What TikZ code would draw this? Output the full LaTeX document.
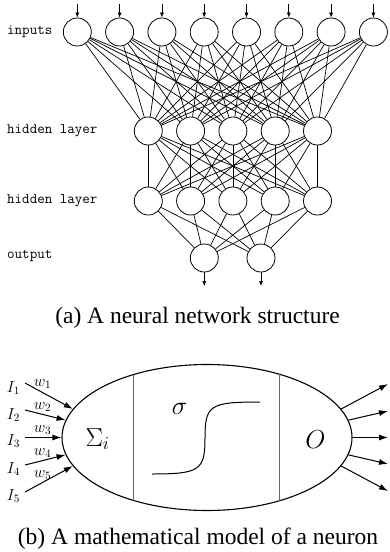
\RequirePackage{fix-cm}
\documentclass[tikz,border=0pt]{standalone}
\usepackage{fontspec}
\newfontfamily\capfont{Liberation Serif}
\usetikzlibrary{shapes.geometric,arrows.meta}
\begin{document}
\begin{tikzpicture}[x=1pt,y=-1pt,
  neu/.style={draw, circle, minimum size=28pt, inner sep=0pt, line width=0.8pt},
  conn/.style={line width=0.7pt},
  smallarr/.style={line width=0.7pt, -{Latex[length=5pt,width=4pt]}},
  lbl/.style={anchor=west, inner sep=0pt, font=\fontsize{14.6}{16}\selectfont\ttfamily},
  captext/.style={anchor=base, inner sep=0pt, font=\fontsize{23.5}{26}\selectfont\capfont},
  bigarr/.style={line width=1pt, -{Latex[length=9pt,width=6pt]}},
  smallmath/.style={anchor=base, inner sep=0pt, font=\fontsize{16}{18}\selectfont},
  bigmath/.style={anchor=base, inner sep=0pt, font=\fontsize{26}{30}\selectfont},
]
\useasboundingbox (0,0) rectangle (389,552);

% ---------------- (a) network ----------------
\foreach \i in {1,...,8} {
  \node[neu] (in\i) at ({77.3+42.3*(\i-1)},32) {};
  \coordinate (ia\i) at ({77.3+42.3*(\i-1)},4);
  \draw[smallarr] (ia\i) -- (in\i);
}
\foreach \j in {1,...,5} {
  \node[neu] (ha\j) at ({148.3+42.3*(\j-1)},131) {};
  \node[neu] (hb\j) at ({148.3+42.3*(\j-1)},201) {};
}
\node[neu] (out1) at (204.3,258) {};
\node[neu] (out2) at (261,258) {};
\coordinate (oa1) at (204.3,286);
\coordinate (oa2) at (261,286);
\draw[smallarr] (out1) -- (oa1);
\draw[smallarr] (out2) -- (oa2);

\foreach \i in {1,...,8} \foreach \j in {1,...,5} \draw[conn] (in\i) -- (ha\j);
\foreach \i in {1,...,5} \foreach \j in {1,...,5} \draw[conn] (ha\i) -- (hb\j);
\foreach \i in {1,...,5} \foreach \j in {1,2} \draw[conn] (hb\i) -- (out\j);

\node[lbl] (linp) at (7,32) {inputs};
\node[lbl] (lh1) at (7,131) {hidden layer};
\node[lbl] (lh2) at (7,201) {hidden layer};
\node[lbl] (lout) at (7,256) {output};

\node[captext] (capa) at (197.5,323) {(a) A neural network structure};

% ---------------- (b) neuron ----------------
\node[draw, ellipse, minimum width=290pt, minimum height=146pt, inner sep=0pt, line width=1.1pt] (neuron) at (207,437.5) {};
\begin{scope}
  \clip (207,437.5) ellipse [x radius=145pt, y radius=73pt];
  \draw[gray!80!black, line width=0.7pt] (133,350) -- (133,520);
  \draw[gray!80!black, line width=0.7pt] (279,350) -- (279,520);
\end{scope}

\node[bigmath] (sig) at (97.5,446) {$\Sigma_i$};
\node[bigmath] (sgm) at (179.5,414) {$\sigma$};
\node[bigmath] (oo) at (315.5,448) {$O$};
\draw[line width=1pt] (152,474) .. controls (200,474) and (205,470) .. (205,438)
   .. controls (205,405) and (210,402) .. (260,402);

% inputs
\node[smallmath] (I1) at (13.5,392) {$I_1$};
\node[smallmath] (I2) at (13.5,419) {$I_2$};
\node[smallmath] (I3) at (13.5,445) {$I_3$};
\node[smallmath] (I4) at (13.5,473) {$I_4$};
\node[smallmath] (I5) at (13.5,500) {$I_5$};
\coordinate (s1) at (25,383);
\coordinate (s2) at (25,410);
\coordinate (s3) at (25,437.5);
\coordinate (s4) at (25,465);
\coordinate (s5) at (25,492);
\draw[bigarr] (s1) -- (neuron.168);
\draw[bigarr] (s2) -- (neuron.173);
\draw[bigarr] (s3) -- (neuron.180);
\draw[bigarr] (s4) -- (neuron.187);
\draw[bigarr] (s5) -- (neuron.192);
\node[smallmath] (w1) at (42.5,386) {$w_1$};
\node[smallmath] (w2) at (42.5,409) {$w_2$};
\node[smallmath] (w3) at (42.5,432) {$w_3$};
\node[smallmath] (w4) at (42.5,455) {$w_4$};
\node[smallmath] (w5) at (42.5,477) {$w_5$};

% outputs
\coordinate (t1) at (388,384);
\coordinate (t2) at (388,411);
\coordinate (t3) at (388,437.5);
\coordinate (t4) at (388,464);
\coordinate (t5) at (388,491);
\draw[bigarr] (neuron.12) -- (t1);
\draw[bigarr] (neuron.7) -- (t2);
\draw[bigarr] (neuron.0) -- (t3);
\draw[bigarr] (neuron.353) -- (t4);
\draw[bigarr] (neuron.348) -- (t5);

\node[captext] (capb) at (198,544) {(b) A mathematical model of a neuron};
\end{tikzpicture}
\end{document}
